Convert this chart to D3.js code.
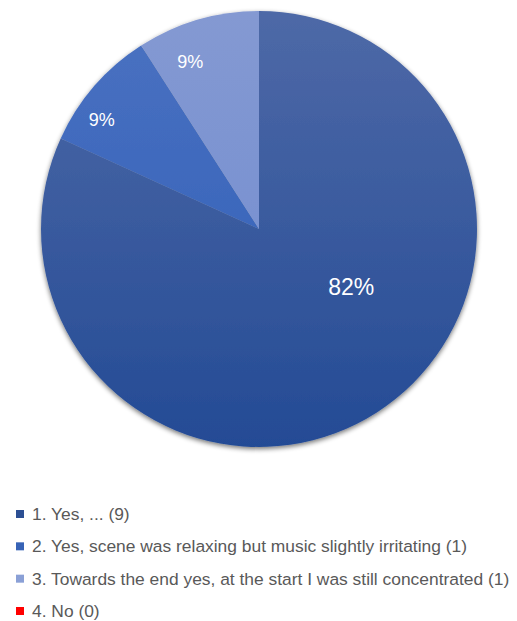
<!DOCTYPE html>
<html>
<head>
<meta charset="utf-8">
<script src="https://cdn.jsdelivr.net/npm/d3@7"></script>
<style>
  html, body { margin: 0; padding: 0; background: #ffffff; }
  svg { display: block; }
</style>
</head>
<body>
<div id="chart"></div>
<script>
// Survey answers and respondent counts
const categories = [
  "1. Yes, ... (9)",
  "2. Yes, scene was relaxing but music slightly irritating (1)",
  "3. Towards the end yes, at the start I was still concentrated (1)",
  "4. No (0)"
];
const counts = [9, 1, 1, 0];
const percentLabels = ["82%", "9%", "9%", ""];

// Fill colours: top and bottom stop of each slice gradient, plus legend swatch
const gradTop    = ["#4e69a7", "#4a71c1", "#8499d2", "#ff0000"];
const gradBottom = ["#244b95", "#2e5eb7", "#6f8bd0", "#e00000"];
const swatch     = ["#2c4f93", "#3763b6", "#8aa0d6", "#ff0000"];

const W = 517, H = 621;
const cx = 259, cy = 229, R = 218;

const svg = d3.select("#chart").append("svg")
  .attr("width", W).attr("height", H);

const defs = svg.append("defs");

// soft outer shadow under the pie
const shadow = defs.append("filter").attr("id", "pieShadow")
  .attr("x", "-10%").attr("y", "-10%").attr("width", "120%").attr("height", "120%");
shadow.append("feGaussianBlur").attr("in", "SourceAlpha").attr("stdDeviation", 2.5).attr("result", "b");
shadow.append("feOffset").attr("in", "b").attr("dx", 0).attr("dy", 2).attr("result", "o");
shadow.append("feComponentTransfer").attr("in", "o").attr("result", "s")
  .append("feFuncA").attr("type", "linear").attr("slope", 0.55);
const merge = shadow.append("feMerge");
merge.append("feMergeNode").attr("in", "s");
merge.append("feMergeNode").attr("in", "SourceGraphic");

// one vertical gradient per slice, spanning the whole pie
categories.forEach((c, i) => {
  const g = defs.append("linearGradient").attr("id", "grad" + i)
    .attr("gradientUnits", "userSpaceOnUse")
    .attr("x1", 0).attr("y1", -R).attr("x2", 0).attr("y2", R);
  g.append("stop").attr("offset", "0%").attr("stop-color", gradTop[i]);
  g.append("stop").attr("offset", "100%").attr("stop-color", gradBottom[i]);
});

const pie = d3.pie().sort(null).value(d => d);
const arcs = pie(counts);
const arc = d3.arc().innerRadius(0).outerRadius(R);

const gPie = svg.append("g").attr("transform", `translate(${cx},${cy})`);

gPie.append("g").attr("filter", "url(#pieShadow)")
  .selectAll("path")
  .data(arcs.filter(d => d.value > 0))
  .join("path")
  .attr("d", arc)
  .attr("fill", d => `url(#grad${d.index})`);

// data labels: radius fraction and angular shift from the slice's middle
const labelRadius = [0.5, 0.88, 0.83];
const labelShift  = [-25, -6, -6];
const labelSize   = [23, 18, 18];

gPie.selectAll("text.pct")
  .data(arcs.filter(d => d.value > 0))
  .join("text")
  .attr("class", "pct")
  .attr("transform", d => {
    const a = (d.startAngle + d.endAngle) / 2 + labelShift[d.index] * Math.PI / 180;
    const r = R * labelRadius[d.index];
    return `translate(${r * Math.sin(a)},${-r * Math.cos(a)})`;
  })
  .attr("text-anchor", "middle")
  .attr("dy", "0.36em")
  .attr("fill", "#ffffff")
  .attr("font-family", "'Liberation Sans', Arial, sans-serif")
  .attr("font-size", d => labelSize[d.index])
  .text(d => percentLabels[d.index]);

// legend
const legendY = d3.scalePoint().domain(d3.range(categories.length)).range([514, 611]);
const legend = svg.append("g");
const rows = legend.selectAll("g")
  .data(categories)
  .join("g")
  .attr("transform", (d, i) => `translate(16,${legendY(i)})`);

rows.append("rect")
  .attr("x", 0).attr("y", -4)
  .attr("width", 8).attr("height", 8)
  .attr("fill", (d, i) => swatch[i]);

rows.append("text")
  .attr("x", 16)
  .attr("dy", "0.35em")
  .attr("fill", "#595959")
  .attr("font-family", "'Liberation Sans', Arial, sans-serif")
  .attr("font-size", 17.4)
  .text(d => d);
</script>
</body>
</html>
